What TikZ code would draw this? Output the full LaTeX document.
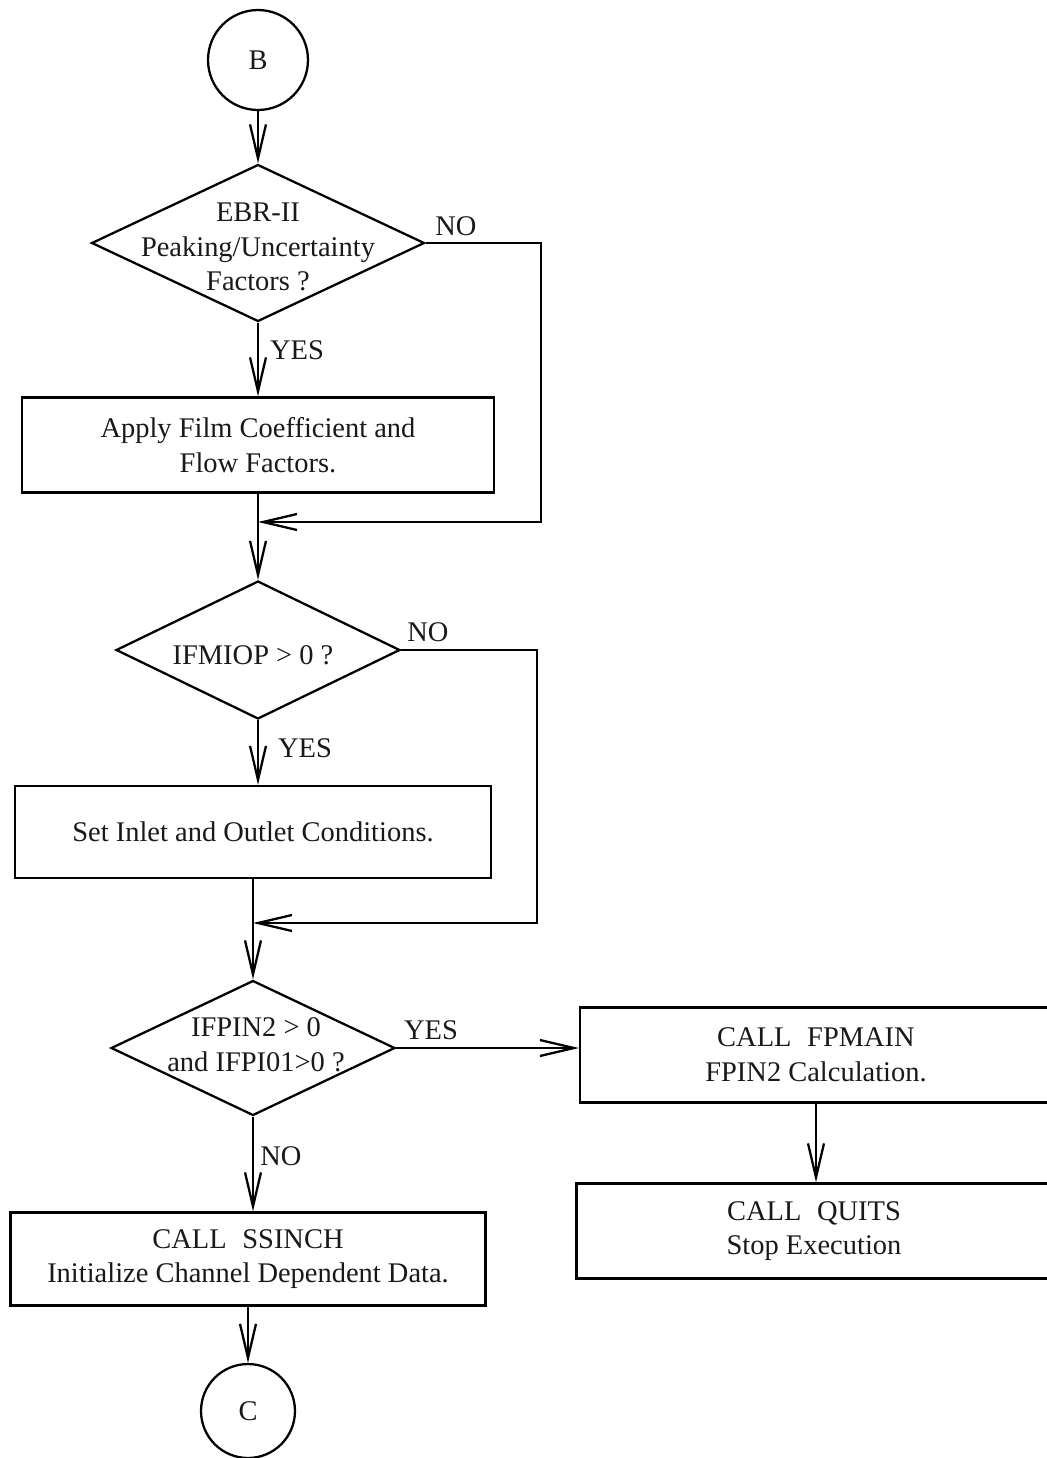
\documentclass[tikz,border=0pt]{standalone}
\usepackage{fontspec}
\setmainfont{Liberation Serif}
\usetikzlibrary{shapes.geometric,arrows.meta}
\begin{document}
\begin{tikzpicture}[x=0.02cm,y=-0.02cm,
  line width=1.3pt,
  every node/.style={font=\fontsize{16.2}{19.8}\selectfont, text=black!90},
  conn/.style={draw, circle, inner sep=0pt},
  procbox/.style={draw, rectangle, inner sep=0pt, align=center},
  decide/.style={draw, diamond, inner sep=0pt},
  txt/.style={align=center, inner sep=0pt},
  arr/.style={-{Straight Barb[length=0.68cm, width=0.32cm]}},
  lbl/.style={inner sep=0pt}]
\useasboundingbox (0,0) rectangle (1047,1458);

% connector and decisions / processes
\node[conn, minimum size=2cm] (B) at (258,60) {B};

\node[decide, minimum width=6.66cm, minimum height=3.14cm] (d1) at (258,243) {};
\node[txt] (d1t) at (258,247) {EBR-II\\Peaking/Uncertainty\\Factors ?};

\node[procbox, minimum width=9.44cm, minimum height=1.9cm] (p1) at (258,445)
  {Apply Film Coefficient and\\Flow Factors.};

\node[decide, minimum width=5.68cm, minimum height=2.76cm] (d2) at (258,650) {};
\node[txt] (d2t) at (253,655) {IFMIOP > 0 ?};

\node[procbox, minimum width=9.52cm, minimum height=1.84cm] (p2) at (253,832)
  {Set Inlet and Outlet Conditions.};

\node[decide, minimum width=5.68cm, minimum height=2.70cm] (d3) at (253,1048) {};
\node[txt] (d3t) at (256,1045) {IFPIN2 > 0\\and IFPI01>0 ?};

\node[procbox, minimum width=9.44cm, minimum height=1.9cm] (p3) at (816,1055)
  {CALL\hspace{0.55em}FPMAIN\\FPIN2 Calculation.};

\node[procbox, minimum width=9.5cm, minimum height=1.9cm] (p4) at (814,1231)
  {CALL\hspace{0.55em}QUITS\\Stop Execution};

\node[procbox, minimum width=9.5cm, minimum height=1.86cm] (p5) at (248,1259)
  {CALL\hspace{0.55em}SSINCH\\Initialize Channel Dependent Data.};

\node[conn, minimum size=1.88cm] (C) at (248,1411) {C};

% junction points of the NO branches
\coordinate (j1) at (258,522);
\coordinate (k1) at (541,522);
\coordinate (j2) at (253,923);
\coordinate (k2) at (537,923);

% flow lines
\draw[arr] (B) -- (d1.north);
\draw[arr] (d1.south) -- (p1.north);
\draw (p1.south) -- (j1);
\draw[arr] (d1.east) -| (k1) -- (j1);
\draw[arr] (j1) -- (d2.north);
\draw[arr] (d2.south) -- (d2.south |- p2.north);
\draw (p2.south) -- (j2);
\draw[arr] (d2.east) -| (k2) -- (j2);
\draw[arr] (j2) -- (d3.north);
\draw[arr] (d3.east) -- (d3.east -| p3.west);
\draw[arr] (p3.south) -- (p3.south |- p4.north);
\draw[arr] (d3.south) -- (d3.south |- p5.north);
\draw[arr] (p5.south) -- (C.north);

% branch labels
\node[lbl] (no1) at (456,226) {NO};
\node[lbl] (yes1) at (297,350) {YES};
\node[lbl] (no2) at (428,632) {NO};
\node[lbl] (yes2) at (305,748) {YES};
\node[lbl] (yes3) at (431,1030) {YES};
\node[lbl] (no3) at (281,1156) {NO};
\end{tikzpicture}
\end{document}
